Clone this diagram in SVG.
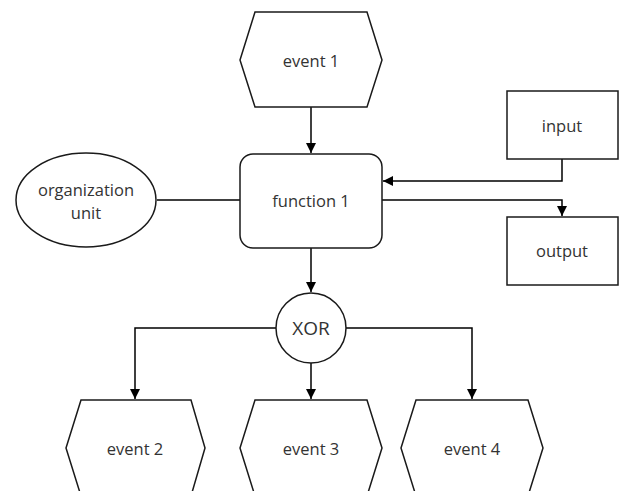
<svg xmlns="http://www.w3.org/2000/svg" width="622" height="491" viewBox="0 0 622 491">
<style>
.s{fill:#fff;stroke:#1a1a1a;stroke-width:1.5}
.c{fill:none;stroke:#000;stroke-width:1.5}
text{font-family:"Open Sans","DejaVu Sans",sans-serif;font-size:16.5px;fill:#333;text-anchor:middle;dominant-baseline:central}
</style>
<defs>
<marker id="a" viewBox="0 0 10 10" refX="10" refY="5" markerWidth="10" markerHeight="10" orient="auto" markerUnits="userSpaceOnUse">
<path d="M0,0 L10,5 L0,10 z" fill="#000"/>
</marker>
</defs>
<rect width="622" height="491" fill="#fff"/>
<g id="connectors">
<path class="c" d="M311,107 V153" marker-end="url(#a)"/>
<path class="c" d="M157,200 H240"/>
<path class="c" d="M562,159 V181 H383" marker-end="url(#a)"/>
<path class="c" d="M382,200 H562 V216" marker-end="url(#a)"/>
<path class="c" d="M311,248 V292" marker-end="url(#a)"/>
<path class="c" d="M276,328 H135 V399" marker-end="url(#a)"/>
<path class="c" d="M311,363 V399" marker-end="url(#a)"/>
<path class="c" d="M346,328 H472 V399" marker-end="url(#a)"/>
</g>
<g id="event1">
<polygon class="s" points="255,12 367,12 382,60 367,107 255,107 240,60"/>
<text x="311" y="60">event 1</text>
</g>
<g id="function1">
<rect class="s" x="240" y="154" width="142" height="94" rx="13"/>
<text x="311" y="200">function 1</text>
</g>
<g id="orgunit">
<ellipse class="s" cx="86" cy="200" rx="70" ry="47"/>
<text x="86" y="189">organization</text>
<text x="86" y="212">unit</text>
</g>
<g id="input">
<rect class="s" x="507" y="91" width="111" height="68"/>
<text x="562" y="125">input</text>
</g>
<g id="output">
<rect class="s" x="507" y="217" width="111" height="68"/>
<text x="562" y="250">output</text>
</g>
<g id="xor">
<circle class="s" cx="311" cy="328" r="35"/>
<text x="311" y="328" style="font-size:19px">XOR</text>
</g>
<g id="event2">
<polygon class="s" points="81,400 191,400 205,448 191,496 81,496 66,448"/>
<text x="135" y="448">event 2</text>
</g>
<g id="event3">
<polygon class="s" points="255,400 367,400 382,448 367,496 255,496 240,448"/>
<text x="311" y="448">event 3</text>
</g>
<g id="event4">
<polygon class="s" points="416,400 528,400 543,448 528,496 416,496 401,448"/>
<text x="472" y="448">event 4</text>
</g>
</svg>
